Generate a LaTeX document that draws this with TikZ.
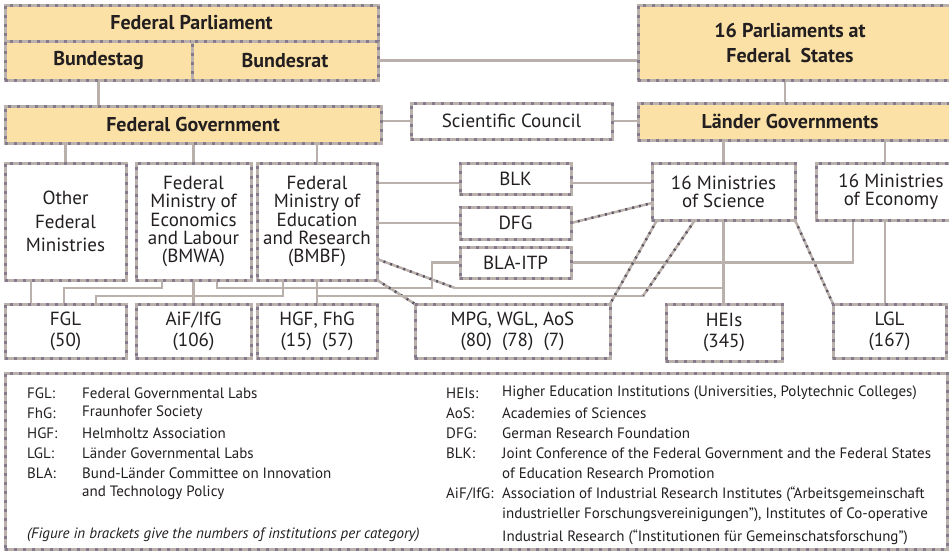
\documentclass[tikz,border=0pt]{standalone}
\usepackage{fontspec}
\setmainfont{PT Sans}
\usetikzlibrary{backgrounds}
\definecolor{ink}{HTML}{231F20}
\definecolor{rule}{HTML}{BAB0AC}
\definecolor{dashc}{HTML}{857B8C}
\definecolor{sand}{HTML}{FBE1A6}
\newcommand{\boxfont}{\fontsize{19}{18.3}\selectfont}
\newcommand{\legfont}{\fontsize{15}{20}\selectfont}
\tikzset{
  every node/.style={text=ink},
  frame/.style={draw=rule, line width=3pt, outer sep=0pt, inner sep=0pt,
    postaction={draw=dashc, line width=3pt, dash pattern=on 3pt off 6pt}},
  wbox/.style={frame, fill=white, align=center, font=\boxfont},
  hbox/.style={frame, fill=sand, align=center, font=\bfseries\fontsize{20}{21}\selectfont},
  lbl/.style={inner sep=0pt, align=center, font=\bfseries\fontsize{20}{25}\selectfont},
  conn/.style={draw=rule, line width=2.5pt},
  diag/.style={conn, postaction={draw=dashc!70!black, line width=2.5pt, dash pattern=on 2pt off 5pt}},
  leg/.style={anchor=west, inner sep=0pt, font=\legfont},
}
\begin{document}
\begin{tikzpicture}[x=1pt,y=-1pt]
\useasboundingbox (0,0) rectangle (949,554);
\clip (0,0) rectangle (949,554);

% parliaments and governments
\node[hbox, minimum width=373pt, minimum height=36pt] (fparl) at (191.5,23) {Federal Parliament};
\node[hbox, minimum width=187pt, minimum height=39pt] (btag) at (98.5,60.5) {Bundestag};
\node[hbox, minimum width=186pt, minimum height=39pt] (brat) at (285,60.5) {Bundesrat};
\node[hbox, minimum width=376pt, minimum height=37pt] (fgov) at (193,124.5) {Federal Government};
\node[wbox, minimum width=201pt, minimum height=36pt] (scc) at (511.5,121) {Scientific Council};
\node[hbox, minimum width=322pt, minimum height=75pt] (parl) at (799,42.5) {};
\node[lbl] (parlt) at (790,42.5) {16 Parliaments at\\Federal\ \ States};
\node[hbox, minimum width=322pt, minimum height=37pt] (lgov) at (799,121.5) {};
\node[lbl] (lgovt) at (790,121.5) {Länder Governments};

% ministries and committees
\node[wbox, minimum width=121pt, minimum height=117pt, font=\fontsize{19}{23.5}\selectfont] (other) at (65.5,221.5) {Other\\Federal\\Ministries};
\node[wbox, minimum width=115pt, minimum height=117pt] (bmwa) at (193.5,221.5) {Federal\\Ministry of\\Economics\\and Labour\\(BMWA)};
\node[wbox, minimum width=120pt, minimum height=117pt] (bmbf) at (317,221.5) {Federal\\Ministry of\\Education\\and Research\\(BMBF)};
\node[wbox, minimum width=111pt, minimum height=31pt] (blk) at (515.5,178.5) {BLK};
\node[wbox, minimum width=111pt, minimum height=32pt] (dfg) at (515.5,223) {DFG};
\node[wbox, minimum width=111pt, minimum height=31pt] (bla) at (515.5,262.5) {BLA-ITP};
\node[wbox, minimum width=143pt, minimum height=57pt] (mos) at (723.5,191.5) {16 Ministries\\of Science};
\node[wbox, minimum width=150pt, minimum height=57pt] (moe) at (891,191.5) {16 Ministries\\of Economy};

% research institutions
\tikzset{inst/.style={wbox, minimum height=54pt, font=\fontsize{19}{21}\selectfont}}
\node[inst, minimum width=121pt] (fgl) at (65.5,331) {FGL\\(50)};
\node[inst, minimum width=115pt] (aif) at (193.5,331) {AiF/IfG\\(106)};
\node[inst, minimum width=120pt] (hgf) at (317,331) {HGF, FhG\\(15)\ \ (57)};
\node[inst, minimum width=195pt] (mpg) at (512.5,331) {MPG, WGL, AoS\\(80)\ \ (78)\ \ (7)};
\node[inst, minimum width=116pt, minimum height=57pt] (hei) at (724,332.5) {HEIs\\(345)};
\node[inst, minimum width=113pt] (lgl) at (889.5,331) {LGL\\(167)};

% column positions of the links
\coordinate (pl) at (785,0);
\coordinate (xe) at (885,0);
\coordinate (x31) at (31,0);
\coordinate (a1) at (162,288);
\coordinate (a2) at (64,288);
\coordinate (c1) at (283,296);
\coordinate (c2) at (96,296);
\coordinate (b1) at (217,288);
\coordinate (b2) at (432,288);
\coordinate (x853) at (853,0);
\coordinate (d1) at (455,288);
\coordinate (e1) at (643,296);

\begin{scope}[on background layer]
\draw[conn] (btag.south) -- (btag.south |- fgov.north);
\draw[conn] (brat.east) -- (brat.east -| parl.west);
\draw[conn] (fgov.east |- scc.west) -- (scc.west);
\draw[conn] (scc.east) -- (scc.east -| lgov.west);
\draw[conn] (pl |- parl.south) -- (pl |- lgov.north);
\draw[conn] (other.north) -- (other.north |- fgov.south);
\draw[conn] (bmwa.north) -- (bmwa.north |- fgov.south);
\draw[conn] (bmbf.north) -- (bmbf.north |- fgov.south);
\draw[conn] (mos.north) -- (mos.north |- lgov.south);
\draw[conn] (xe |- lgov.south) -- (xe |- moe.north);
\draw[conn] (x31 |- other.south) -- (x31 |- fgl.north);
\draw[conn] (a1 |- bmwa.south) -- (a1) -- (a2) -- (a2 |- fgl.north);
\draw[conn] (c1 |- bmbf.south) -- (c1) -- (c2) -- (c2 |- fgl.north);
\draw[conn] (bmwa.south) -- (aif.north);
\draw[conn] (bmbf.south) -- (hgf.north);
\draw[conn] (b1 |- bmwa.south) -- (b1) -- (b2) -- (b2 |- bla.west) -- (bla.west);
\draw[conn] ([yshift=-4.5pt]blk.west -| bmbf.east) -- ([yshift=-4.5pt]blk.west);
\draw[conn] ([yshift=-4.5pt]blk.east) -- ([yshift=-4.5pt]blk.east -| mos.west);
\draw[conn] (dfg.west -| bmbf.east) -- (dfg.west);
\draw[diag] (dfg.east) -- ([yshift=-11.5pt]mos.west);
\draw[conn] (bla.east) -- (x853 |- bla.east) -- (x853 |- moe.south);
\draw[diag] ([yshift=-37.5pt]bmbf.east) -- (d1);
\draw[conn] (d1) -- (d1 -| hei.north);
\draw[diag] (bmbf.south east) -- (mpg.north west);
\draw[diag] ([xshift=-28.5pt]mos.south) -- (e1);
\draw[conn] (e1) -- (e1 -| hgf.north);
\draw[diag] ([xshift=-66.5pt]mos.south) -- (mpg.north east);
\draw[conn] (mos.south) -- (mos.south |- hei.north);
\draw[diag] (mos.south east) -- (lgl.north west);
\draw[conn] (xe |- moe.south) -- (xe |- lgl.north);
\end{scope}

% key to abbreviations
\node[frame, fill=white, minimum width=942pt, minimum height=176pt] (legend) at (476,461) {};
\node[leg] (k1) at (27,393) {FGL:};
\node[leg] (v1) at (82,393) {Federal Governmental Labs};
\node[leg] (k2) at (27,413) {FhG:};
\node[leg] (v2) at (82,413) {Fraunhofer Society};
\node[leg] (k3) at (27,433) {HGF:};
\node[leg] (v3) at (82,433) {Helmholtz Association};
\node[leg] (k4) at (27,453) {LGL:};
\node[leg] (v4) at (82,453) {Länder Governmental Labs};
\node[leg] (k5) at (27,473) {BLA:};
\node[leg] (v5) at (82,473) {Bund-Länder Committee on Innovation};
\node[leg] (v5b) at (82,493) {and Technology Policy};
\node[leg, font=\legfont\itshape] (note) at (27,535) {(Figure in brackets give the numbers of institutions per category)};
\node[leg] (k6) at (446,393) {HEIs:};
\node[leg] (v6) at (502,393) {Higher Education Institutions (Universities, Polytechnic Colleges)};
\node[leg] (k7) at (446,413) {AoS:};
\node[leg] (v7) at (502,413) {Academies of Sciences};
\node[leg] (k8) at (446,433) {DFG:};
\node[leg] (v8) at (502,433) {German Research Foundation};
\node[leg] (k9) at (446,453) {BLK:};
\node[leg] (v9) at (502,453) {Joint Conference of the Federal Government and the Federal States};
\node[leg] (v9b) at (502,473) {of Education Research Promotion};
\node[leg] (k10) at (446,494) {AiF/IfG:};
\node[leg] (v10) at (502,494) {Association of Industrial Research Institutes (“Arbeitsgemeinschaft};
\node[leg] (v10b) at (502,515) {industrieller Forschungsvereinigungen”), Institutes of Co-operative};
\node[leg] (v10c) at (502,537) {Industrial Research (“Institutionen für Gemeinschatsforschung”)};
\end{tikzpicture}
\end{document}
